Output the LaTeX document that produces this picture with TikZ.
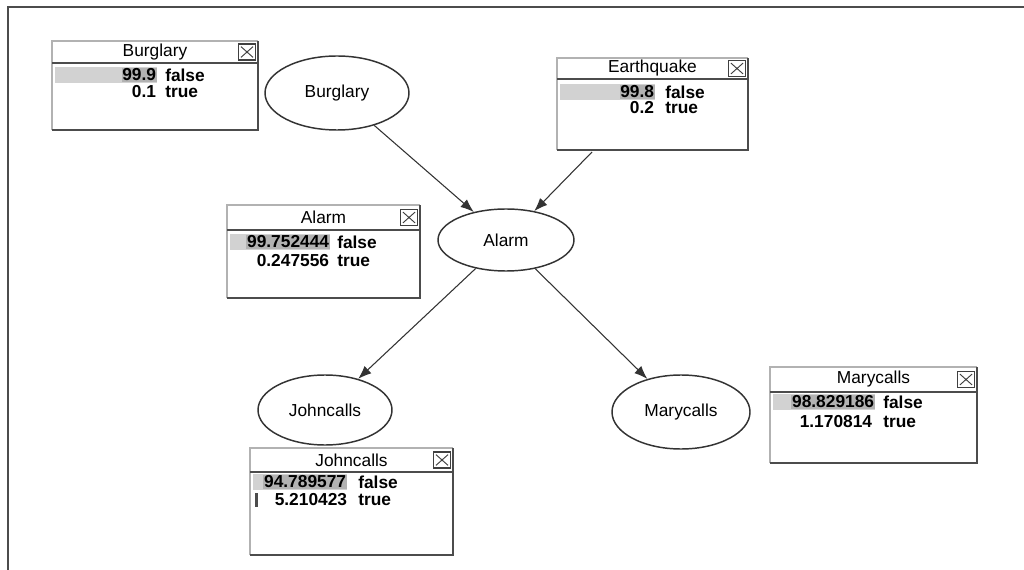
\documentclass[tikz,border=0pt]{standalone}
\usepackage{fontspec}
\setmainfont{Liberation Sans}
\usetikzlibrary{shapes.geometric,arrows.meta}
\newcommand{\cptbox}[7]{%
  \fill[white] (#2,#3) rectangle (#4,#5);
  \draw[frameedge] (#2,#5) -- (#2,#3) -- (#4,#3);
  \draw[frameshade] (#2,#5) -- (#4,#5) -- (#4,#3);
  \draw[sepline] (#2,#6) -- (#4,#6);
  \node[closebtn] (#1-close) at (#4-11,{(#3+#6)/2}) {};
  \node[titletext] (#1-title) at ({(#2+#4)/2},{(#3+#6)/2}) {#7};
}
\begin{document}
\begin{tikzpicture}[x=0.75pt,y=-0.75pt,
  every node/.style={font=\fontsize{13}{15}\selectfont},
  var/.style={ellipse, draw=black!80, line width=1.1pt, inner sep=0pt, fill=white},
  link/.style={draw=black!80, line width=0.8pt, -{Latex[length=10pt,width=7.5pt]}},
  frameedge/.style={draw=gray!60, line width=0.9pt},
  frameshade/.style={draw=black!70, line width=1.8pt},
  sepline/.style={draw=black!70, line width=1pt},
  closebtn/.style={draw=black!75, line width=0.8pt, minimum width=13pt, minimum height=12pt, inner sep=0pt,
    path picture={\draw[black!75,line width=0.7pt]
      ([shift={(2pt,-2pt)}]path picture bounding box.north west) -- ([shift={(-2pt,2pt)}]path picture bounding box.south east)
      ([shift={(-2pt,-2pt)}]path picture bounding box.north east) -- ([shift={(2pt,2pt)}]path picture bounding box.south west);}},
  titletext/.style={inner sep=0pt},
  numtext/.style={inner sep=0.5pt, anchor=east, font=\fontsize{13}{15}\selectfont\bfseries},
  hinum/.style={numtext, fill=gray!60},
  stattext/.style={inner sep=0pt, anchor=west, font=\fontsize{13}{15}\selectfont\bfseries},
  litebar/.style={fill=gray!35},
]
\useasboundingbox (0,0) rectangle (1024,570);
% outer frame
\draw[black!70, line width=2pt] (8,570) -- (8,7) -- (1024,7);

% variables
\node[var, minimum width=108pt, minimum height=55.5pt] (burg) at (337,93) {Burglary};
\node[var, minimum width=102pt, minimum height=46.5pt] (alarm) at (506,240) {Alarm};
\node[var, minimum width=100.5pt, minimum height=52.5pt] (john) at (325,410) {Johncalls};
\node[var, minimum width=103.5pt, minimum height=55.5pt] (mary) at (681,412) {Marycalls};
\coordinate (eqsrc) at (592,152);

% links
\draw[link] (burg) -- (alarm);
\draw[link] (eqsrc) -- (alarm);
\draw[link] (alarm) -- (john);
\draw[link] (alarm) -- (mary);

% Burglary table
\cptbox{burgbox}{52}{41}{258}{130}{63}{Burglary}
\fill[litebar] (55,67) rectangle (157,83);
\node[hinum] (burg-p1) at (157,75) {99.9};
\node[stattext] (burg-s1) at (165,75) {false};
\node[numtext] (burg-p2) at (157,92) {0.1};
\node[stattext] (burg-s2) at (165,92) {true};

% Earthquake table
\cptbox{eqbox}{557}{58}{748}{150}{79}{Earthquake}
\fill[litebar] (560,84) rectangle (655,100);
\node[hinum] (eq-p1) at (655,92) {99.8};
\node[stattext] (eq-s1) at (665,92) {false};
\node[numtext] (eq-p2) at (655,108) {0.2};
\node[stattext] (eq-s2) at (665,108) {true};

% Alarm table
\cptbox{alarmbox}{227}{205}{420}{298}{230}{Alarm}
\fill[litebar] (230,234) rectangle (330,250);
\node[hinum] (al-p1) at (330,242) {99.752444};
\node[stattext] (al-s1) at (337,242) {false};
\node[numtext] (al-p2) at (330,261) {0.247556};
\node[stattext] (al-s2) at (337,261) {true};

% Johncalls table
\cptbox{johnbox}{250}{448}{453}{555}{472}{Johncalls}
\fill[litebar] (253,474) rectangle (347,490);
\node[hinum] (jo-p1) at (347,482) {94.789577};
\node[stattext] (jo-s1) at (358,482) {false};
\fill[black!70] (255,493) rectangle (258,507);
\node[numtext] (jo-p2) at (348,500) {5.210423};
\node[stattext] (jo-s2) at (358,500) {true};

% Marycalls table
\cptbox{marybox}{770}{367}{977}{463}{392}{Marycalls}
\fill[litebar] (773,394) rectangle (875,410);
\node[hinum] (ma-p1) at (875,402) {98.829186};
\node[stattext] (ma-s1) at (883,402) {false};
\node[numtext] (ma-p2) at (873,422) {1.170814};
\node[stattext] (ma-s2) at (883,422) {true};
\end{tikzpicture}
\end{document}
